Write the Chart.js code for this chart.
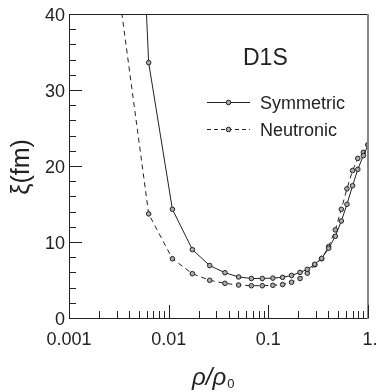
<!DOCTYPE html>
<html>
<head>
<meta charset="utf-8">
<script src="https://cdn.jsdelivr.net/npm/chart.js@4"></script>
<style>
  html, body { margin: 0; padding: 0; background: #fff; }
  #wrap { width: 378px; height: 392px; }
</style>
</head>
<body>
<div id="wrap"><canvas id="c" width="378" height="392"></canvas></div>
<script>
// density rho/rho0 (first point lies above the frame)
var rho = [0.0032, 0.0063, 0.0109, 0.0173, 0.0258, 0.0367, 0.0503, 0.0676, 0.087, 0.111, 0.139,
           0.171, 0.208, 0.246, 0.292, 0.343, 0.403, 0.47, 0.54, 0.615, 0.70, 0.79, 0.898, 1.0];
// coherence length xi (fm)
var xiSymmetric = [120, 33.6, 14.3, 9.0, 6.9, 5.96, 5.4, 5.2, 5.2, 5.25, 5.35,
                   5.6, 6.0, 6.4, 7.07, 7.85, 9.17, 10.75, 12.76, 14.96, 17.4, 19.56, 21.36, 22.76];
var xiNeutronic = [42.5, 13.7, 7.8, 5.83, 4.96, 4.56, 4.34, 4.25, 4.25, 4.3, 4.4,
                   4.7, 5.2, 5.9, 7.0, 7.8, 9.4, 11.6, 14.3, 17.0, 19.4, 21.0, 21.8, 22.8];

var xMajor = [0.001, 0.01, 0.1, 1];
var xLabels = ['0.001', '0.01', '0.1', '1.'];
var yMajor = [0, 10, 20, 30, 40];
var yLabels = ['0', '10', '20', '30', '40'];

function pts(ys) {
  return rho.map(function (r, i) { return { x: r, y: ys[i] }; });
}

var FONT = '"Liberation Sans", Arial, sans-serif';
var INK = '#222';

var framePlugin = {
  id: 'frame',
  afterDraw: function (chart) {
    var ctx = chart.ctx, a = chart.chartArea;
    var xs = chart.scales.x, ys = chart.scales.y;
    ctx.save();
    ctx.strokeStyle = INK;
    ctx.lineWidth = 1;

    // frame
    ctx.beginPath();
    ctx.moveTo(a.left + 0.5, a.top + 0.5);
    ctx.lineTo(a.right, a.top + 0.5);
    ctx.moveTo(a.left + 0.5, a.top);
    ctx.lineTo(a.left + 0.5, a.bottom + 0.5);
    ctx.lineTo(a.right, a.bottom + 0.5);
    ctx.stroke();
    ctx.strokeStyle = '#888';
    ctx.lineWidth = 2;
    ctx.beginPath();
    ctx.moveTo(a.right, a.top);
    ctx.lineTo(a.right, a.bottom + 1);
    ctx.stroke();

    // y ticks (inside)
    ctx.strokeStyle = INK;
    ctx.lineWidth = 1;
    for (var v = 0; v <= 40; v += 2) {
      var py = Math.round(ys.getPixelForValue(v)) + 0.5;
      var len = (v % 10 === 0) ? 13 : 7;
      ctx.beginPath();
      ctx.moveTo(a.left, py);
      ctx.lineTo(a.left + len, py);
      ctx.stroke();
    }
    // x ticks (inside, log minor)
    for (var d = 0; d < xMajor.length; d++) {
      var dec = xMajor[d];
      for (var m = 1; m <= 9; m++) {
        var val = dec * m;
        if (val > 1.0001) break;
        var px = Math.round(xs.getPixelForValue(val)) + 0.5;
        var l = (m === 1) ? 13 : 7;
        ctx.beginPath();
        ctx.moveTo(px, a.bottom);
        ctx.lineTo(px, a.bottom - l);
        ctx.stroke();
      }
    }

    // tick labels
    ctx.fillStyle = INK;
    ctx.font = '18px ' + FONT;
    ctx.textAlign = 'right';
    ctx.textBaseline = 'alphabetic';
    yMajor.forEach(function (v, i) {
      ctx.fillText(yLabels[i], a.left - 4, ys.getPixelForValue(v) + 7);
    });
    ctx.textAlign = 'center';
    xMajor.forEach(function (v, i) {
      var px = xs.getPixelForValue(v);
      if (i === xMajor.length - 1) px += 2;
      ctx.fillText(xLabels[i], px, a.bottom + 27);
    });

    // axis titles
    ctx.textAlign = 'left';
    ctx.font = 'italic 24px ' + FONT;
    ctx.fillText('\u03c1/\u03c1', 192, 385);
    var w = ctx.measureText('\u03c1/\u03c1').width;
    ctx.font = '13px ' + FONT;
    ctx.fillText('0', 192 + w + 1, 388);

    ctx.save();
    ctx.translate(29, 167);
    ctx.rotate(-Math.PI / 2);
    ctx.textAlign = 'center';
    ctx.font = '25px ' + FONT;
    ctx.fillText('\u03be(fm)', 0, 0);
    ctx.restore();

    // model label
    ctx.font = '23px ' + FONT;
    ctx.textAlign = 'left';
    ctx.fillText('D1S', 243, 65);

    // legend
    var items = [
      { label: 'Symmetric', y: 102.5, dash: [] },
      { label: 'Neutronic', y: 129.5, dash: [4, 3] }
    ];
    items.forEach(function (it) {
      ctx.strokeStyle = INK;
      ctx.lineWidth = 1;
      ctx.setLineDash(it.dash);
      ctx.beginPath();
      ctx.moveTo(207, it.y);
      ctx.lineTo(250, it.y);
      ctx.stroke();
      ctx.setLineDash([]);
      ctx.beginPath();
      ctx.arc(228.5, it.y, 2.3, 0, Math.PI * 2);
      ctx.fillStyle = '#aaa';
      ctx.fill();
      ctx.stroke();
      ctx.fillStyle = INK;
      ctx.font = '18px ' + FONT;
      ctx.fillText(it.label, 260, it.y + 6.5);
    });
    ctx.restore();
  }
};

new Chart(document.getElementById('c'), {
  type: 'line',
  data: {
    datasets: [
      {
        label: 'Symmetric',
        data: pts(xiSymmetric),
        borderColor: INK,
        borderWidth: 1,
        pointRadius: 2.3,
        pointBorderWidth: 1,
        pointBorderColor: INK,
        pointBackgroundColor: '#aaa',
        tension: 0,
        fill: false
      },
      {
        label: 'Neutronic',
        data: pts(xiNeutronic),
        borderColor: INK,
        borderWidth: 1,
        borderDash: [5, 4],
        pointRadius: 2.3,
        pointBorderWidth: 1,
        pointBorderColor: INK,
        pointBackgroundColor: '#aaa',
        tension: 0,
        fill: false
      }
    ]
  },
  options: {
    responsive: false,
    animation: false,
    layout: { padding: { left: 69, right: 10, top: 14, bottom: 74 } },
    plugins: { legend: { display: false }, tooltip: { enabled: false } },
    scales: {
      x: { type: 'logarithmic', min: 0.001, max: 1, display: false },
      y: { type: 'linear', min: 0, max: 40, display: false }
    }
  },
  plugins: [framePlugin]
});
</script>
</body>
</html>
